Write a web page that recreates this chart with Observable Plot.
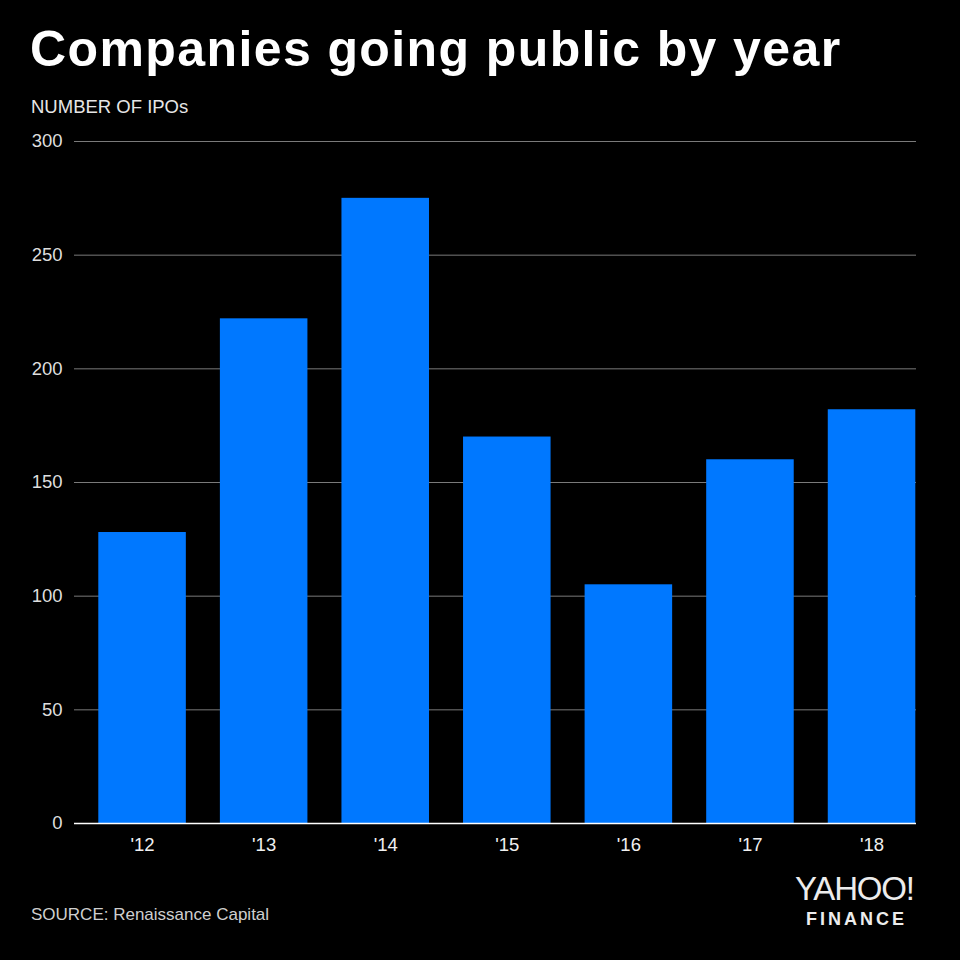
<!DOCTYPE html>
<html>
<head>
<meta charset="utf-8">
<script src="https://cdn.jsdelivr.net/npm/d3@7"></script>
<script src="https://cdn.jsdelivr.net/npm/@observablehq/plot@0.6"></script>
<style>
  html, body { margin: 0; padding: 0; background: #000; }
  #page { position: relative; width: 960px; height: 960px; background: #000; overflow: hidden;
          font-family: "Liberation Sans", Arial, Helvetica, sans-serif; }
  #header { position: relative; height: 125px; }
  #footer { position: relative; height: 95px; }
  .abs { position: absolute; white-space: nowrap; line-height: 1; }
  #title { left: 30px; top: 23.7px; font-size: 50px; font-weight: bold; color: #fff; letter-spacing: 1.4px; }
  #subtitle { left: 31px; top: 97.6px; font-size: 18.5px; color: #e6e6e6; }
  #source { left: 31px; top: 41.3px; font-size: 17px; color: #cfcfcf; }
  #yahoo { left: 795px; top: 11.4px; font-size: 33px; line-height: 0.8; color: #ececec; letter-spacing: -1.2px; }
  #finance { left: 806px; top: 44.8px; font-size: 18px; font-weight: bold; color: #ececec; letter-spacing: 3px; }
  #chart svg { display: block; }
</style>
</head>
<body>
<div id="page">
  <div id="header">
    <div id="title" class="abs">Companies going public by year</div>
    <div id="subtitle" class="abs">NUMBER OF IPOs</div>
  </div>
  <div id="chart"></div>
  <div id="footer">
    <div id="source" class="abs">SOURCE: Renaissance Capital</div>
    <div id="yahoo" class="abs">YAHOO!</div>
    <div id="finance" class="abs">FINANCE</div>
  </div>
</div>
<script>
const years = ["'12", "'13", "'14", "'15", "'16", "'17", "'18"];
const ipos = [128, 222, 275, 170, 105, 160, 182];
const yTicks = [0, 50, 100, 150, 200, 250, 300];

const data = years.map((year, i) => ({year, ipos: ipos[i]}));

const chart = Plot.plot({
  width: 960,
  height: 740,
  marginTop: 16,
  marginBottom: 42,
  marginLeft: 74,
  marginRight: 44,
  style: {
    background: "#000",
    color: "#dedede",
    fontFamily: "'Liberation Sans', Arial, Helvetica, sans-serif",
    fontSize: "18.5px",
    overflow: "visible"
  },
  x: {domain: years, range: [98.3, 915.3], paddingInner: 0.28, paddingOuter: 0, round: false},
  y: {domain: [0, 300]},
  marks: [
    Plot.gridY(yTicks, {stroke: "#7a7a7a", strokeOpacity: 1}),
    Plot.barY(data, {x: "year", y: "ipos", fill: "#0078ff"}),
    Plot.ruleY([0], {stroke: "#ffffff", strokeWidth: 1.5}),
    Plot.axisY(yTicks, {tickSize: 0, tickPadding: 12, label: null, fill: "#dedede"}),
    Plot.axisX({tickSize: 0, tickPadding: 14, label: null, fill: "#f0f0f0"})
  ]
});
document.getElementById("chart").appendChild(chart);
</script>
</body>
</html>
